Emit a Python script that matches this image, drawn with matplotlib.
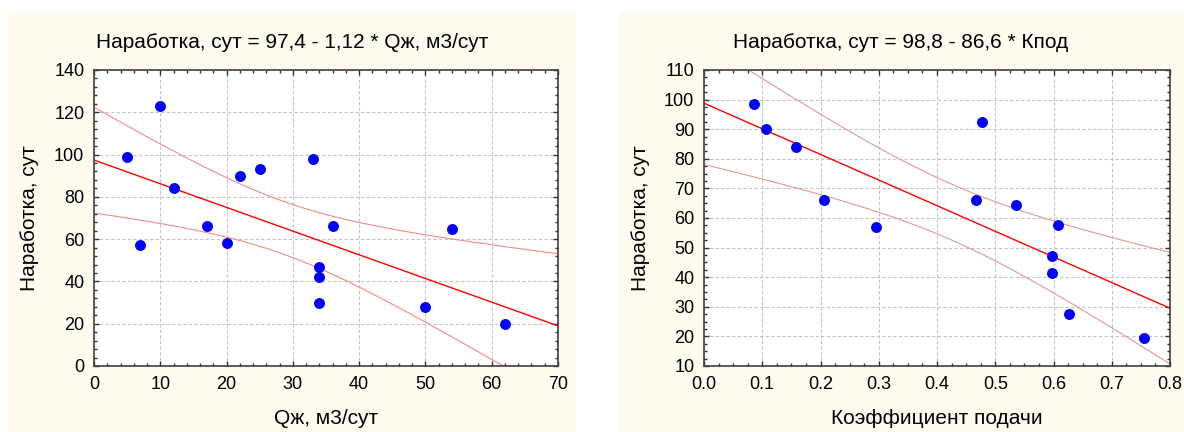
"""Two regression scatter panels: run time vs liquid rate and vs pump fill factor."""

import matplotlib

matplotlib.use("Agg")
import matplotlib.pyplot as plt
import numpy as np
from matplotlib.patches import Rectangle
from matplotlib.ticker import MultipleLocator

plt.rcParams["font.family"] = ["Liberation Sans", "DejaVu Sans"]
plt.rcParams["font.size"] = 13

# left panel: run time vs liquid rate
q_liquid = [5, 7, 10, 12, 17, 20, 22, 25, 33, 34, 34, 34, 36, 50, 54, 62]
runtime_q = [99, 57, 123, 84, 66, 58, 90, 93, 98, 47, 42, 30, 66, 28, 65, 20]
fit_q = (97.4, -1.12)

# right panel: run time vs pump fill factor
k_fill = [0.086, 0.106, 0.158, 0.206, 0.295, 0.467, 0.478, 0.536, 0.608, 0.598, 0.598, 0.626, 0.756]
runtime_k = [98.5, 90, 84, 66, 57, 66, 92.5, 64.5, 57.6, 47, 41.5, 27.4, 19.3]
fit_k = (98.8, -86.6)

# two-sided 95% Student t for n-2 degrees of freedom
t_q = 2.145
t_k = 2.201

CREAM = "#FFFAEE"


def conf_band(x, y, coef, t_val, grid):
    x = np.asarray(x, float)
    y = np.asarray(y, float)
    b0, b1 = coef
    resid = y - (b0 + b1 * x)
    n = len(x)
    s = np.sqrt(np.sum(resid**2) / (n - 2))
    sxx = np.sum((x - x.mean()) ** 2)
    half = t_val * s * np.sqrt(1.0 / n + (grid - x.mean()) ** 2 / sxx)
    center = b0 + b1 * grid
    return center, center - half, center + half


def draw_panel(ax, x, y, coef, t_val, xlim, ylim, xmaj, xmin, ymaj, ymin, band_color, xfmt):
    grid = np.linspace(xlim[0], xlim[1], 300)
    center, lo, hi = conf_band(x, y, coef, t_val, grid)
    ax.grid(True, color="#C4C4C4", linestyle=(0, (3, 2)), linewidth=0.8)
    ax.set_axisbelow(True)
    ax.plot(grid, lo, color=band_color, linewidth=0.8)
    ax.plot(grid, hi, color=band_color, linewidth=0.8)
    ax.plot(grid, center, color="#FF0000", linewidth=1.0)
    ax.scatter(x, y, s=62, color="#0000FF", zorder=5, linewidths=0, clip_on=False)
    ax.set_xlim(*xlim)
    ax.set_ylim(*ylim)
    ax.xaxis.set_major_locator(MultipleLocator(xmaj))
    ax.xaxis.set_minor_locator(MultipleLocator(xmin))
    ax.yaxis.set_major_locator(MultipleLocator(ymaj))
    ax.yaxis.set_minor_locator(MultipleLocator(ymin))
    ax.xaxis.set_major_formatter(xfmt)
    ax.tick_params(which="both", direction="in", top=True, right=True, color="#303030")
    ax.tick_params(which="major", length=3.5, width=1.0, pad=7)
    ax.tick_params(which="minor", length=2.5, width=1.0)
    for sp in ax.spines.values():
        sp.set_color("#404040")
        sp.set_linewidth(1.2)


W, H = 1184, 432
fig = plt.figure(figsize=(W / 100, H / 100), dpi=100)
fig.patch.set_facecolor("white")
fig.add_artist(Rectangle((8 / W, 0), (576 - 8) / W, (H - 13) / H, transform=fig.transFigure,
                         facecolor=CREAM, edgecolor="none", zorder=0))
fig.add_artist(Rectangle((619 / W, 0), (W - 619) / W, (H - 13) / H, transform=fig.transFigure,
                         facecolor=CREAM, edgecolor="none", zorder=0))

ax1 = fig.add_axes([94 / W, 1 - 366 / H, (558 - 94) / W, 296 / H])
ax2 = fig.add_axes([704 / W, 1 - 366 / H, (1170 - 704) / W, 296 / H])

draw_panel(ax1, q_liquid, runtime_q, fit_q, t_q, (0, 70), (0, 140), 10, 2, 20, 4,
           "#F58A8A", lambda v, p: f"{v:.0f}")
draw_panel(ax2, k_fill, runtime_k, fit_k, t_k, (0, 0.8), (10, 110), 0.1, 0.025, 10, 2.5,
           "#DE9A9A", lambda v, p: f"{v:.1f}")

title_q = f"Наработка, сут = {fit_q[0]:.1f} - {abs(fit_q[1]):.2f} * Qж, м3/сут".replace(".", ",")
title_k = f"Наработка, сут = {fit_k[0]:.1f} - {abs(fit_k[1]):.1f} * Кпод".replace(".", ",")
fig.text(292 / W, 1 - 43 / H, title_q, ha="center", va="center", fontsize=15)
fig.text(901 / W, 1 - 43 / H, title_k, ha="center", va="center", fontsize=15)

fig.text(326 / W, 1 - 418 / H, "Qж, м3/сут", ha="center", va="center", fontsize=15)
fig.text(937 / W, 1 - 418 / H, "Коэффициент подачи", ha="center", va="center", fontsize=15)
fig.text(30 / W, 1 - 218 / H, "Наработка, сут", ha="center", va="center", rotation=90, fontsize=15)
fig.text(641 / W, 1 - 218 / H, "Наработка, сут", ha="center", va="center", rotation=90, fontsize=15)

fig.savefig("out.png", dpi=100, facecolor=fig.get_facecolor())
plt.close(fig)
